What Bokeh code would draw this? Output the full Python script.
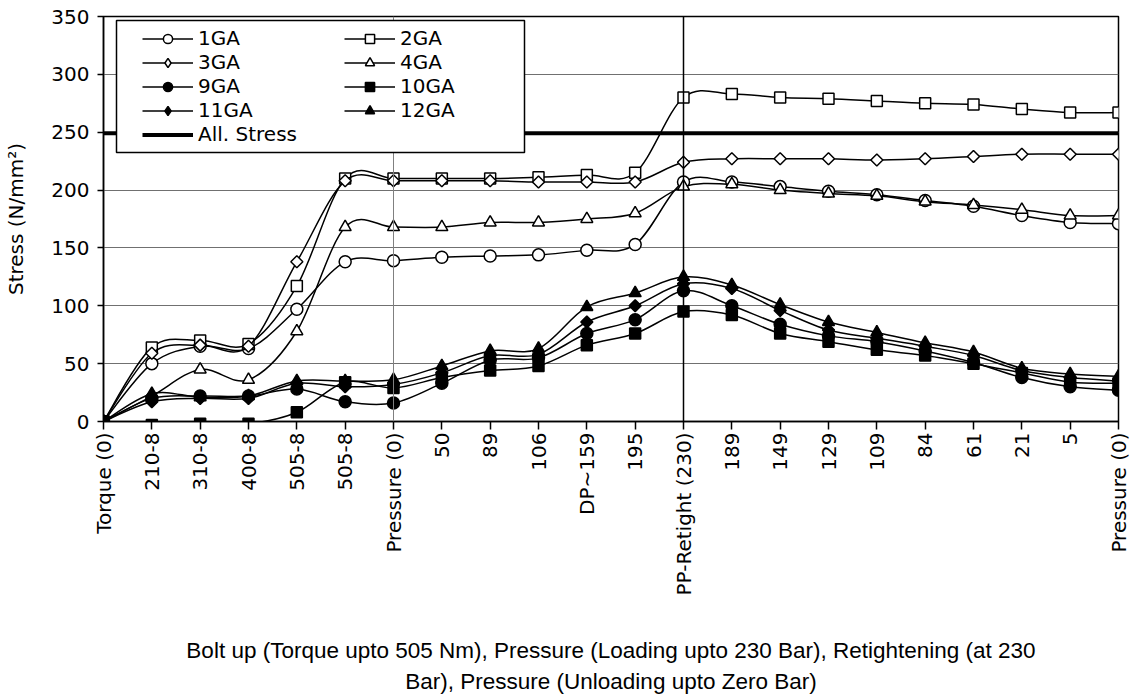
import math
from bokeh.plotting import figure
from bokeh.models import (Range1d, FixedTicker, Span, BoxAnnotation, Legend,
                          LegendItem, Title)
from bokeh.embed import file_html
from bokeh.resources import INLINE

# ---------------- data ----------------
stages = ["Torque (0)", "210-8", "310-8", "400-8", "505-8", "505-8",
          "Pressure (0)", "50", "89", "106", "DP~159", "195",
          "PP-Retight (230)", "189", "149", "129", "109", "84", "61", "21",
          "5", "Pressure (0)"]

ga1 = [0, 50, 65, 63, 97, 138, 139, 142, 143, 144, 148, 153, 207, 207, 203, 199, 196, 191, 186, 178, 172, 171]
ga2 = [0, 64, 70, 67, 117, 210, 210, 210, 210, 211, 213, 215, 280, 283, 280, 279, 277, 275, 274, 270, 267, 267]
ga3 = [0, 59, 66, 65, 138, 208, 208, 208, 208, 207, 207, 207, 224, 227, 227, 227, 226, 227, 229, 231, 231, 231]
ga4 = [0, 22, 45, 36, 78, 168, 168, 168, 172, 172, 175, 180, 203, 205, 200, 197, 195, 190, 187, 183, 178, 178]
ga9 = [0, 20, 22, 22, 28, 17, 16, 33, 53, 55, 76, 88, 113, 100, 84, 74, 69, 61, 51, 38, 30, 27]
ga10 = [0, -3, -2, -2, 8, 34, 29, 38, 44, 48, 66, 76, 95, 92, 76, 69, 62, 57, 50, 42, 34, 33]
ga11 = [0, 17, 20, 20, 33, 30, 32, 42, 57, 58, 86, 100, 119, 115, 96, 79, 72, 65, 57, 44, 38, 35]
ga12 = [0, 24, 21, 22, 35, 35, 36, 48, 61, 63, 99, 111, 125, 118, 101, 86, 77, 68, 60, 46, 41, 39]
allow_stress = 249
stage_marks = [6, 12]

y_ticks = [0, 50, 100, 150, 200, 250, 300, 350]

x_title_1 = "Bolt up (Torque upto 505 Nm), Pressure (Loading upto 230 Bar), Retightening (at 230"
x_title_2 = "Bar), Pressure (Unloading upto Zero Bar)"
y_title = "Stress (N/mm\u00b2)"

# ---------------- layout constants ----------------
W, H = 1137, 696
LEFT, RIGHT, TOP, BOTTOM = 103, 1118, 16, 421
FONT = "DejaVu Sans"

xs = list(range(len(stages)))
YMAX = 350

p = figure(width=W, height=H, output_backend="svg", toolbar_location=None,
           x_range=Range1d(xs[0], xs[-1]), y_range=Range1d(0, YMAX),
           min_border_left=LEFT, min_border_right=W - RIGHT,
           min_border_top=TOP, min_border_bottom=H - BOTTOM)
p.background_fill_color = "white"
p.border_fill_color = "white"
p.outline_line_color = "black"
p.outline_line_width = 1.5

p.xgrid.visible = False
p.ygrid.grid_line_color = "#707070"
p.ygrid.grid_line_width = 1

# axes
p.yaxis.ticker = FixedTicker(ticks=y_ticks)
p.yaxis.axis_label = y_title
p.yaxis.axis_label_text_font = FONT
p.yaxis.axis_label_text_font_size = "20px"
p.yaxis.axis_label_text_font_style = "normal"
p.yaxis.axis_label_standoff = 20
p.yaxis.major_label_text_font = FONT
p.yaxis.major_label_text_font_size = "20px"
p.yaxis.major_label_standoff = 8
p.yaxis.major_tick_in = 0
p.yaxis.major_tick_out = 6
p.yaxis.minor_tick_out = 0
p.yaxis.minor_tick_in = 0

p.xaxis.ticker = FixedTicker(ticks=xs)
p.xaxis.major_label_overrides = {i: s for i, s in enumerate(stages)}
p.xaxis.major_label_orientation = math.pi / 2
p.xaxis.major_label_text_font = FONT
p.xaxis.major_label_text_font_size = "20px"
p.xaxis.major_label_standoff = 3
p.xaxis.major_tick_in = 0
p.xaxis.major_tick_out = 8
p.xaxis.axis_label = x_title_1
p.xaxis.axis_label_text_font = "Liberation Sans"
p.xaxis.axis_label_text_font_size = "22.5px"
p.xaxis.axis_label_text_font_style = "normal"
p.xaxis.axis_label_text_line_height = 1.0
p.xaxis.axis_label_standoff = 40

for ax in (p.xaxis[0], p.yaxis[0]):
    ax.axis_line_color = "black"
    ax.axis_line_width = 1.5
    ax.major_tick_line_color = "black"
    ax.major_tick_line_width = 1.5
    ax.major_label_text_color = "black"
    ax.axis_label_text_color = "black"

p.add_layout(Title(text=x_title_2, align="center", text_font="Liberation Sans",
                   text_font_size="22.5px", text_font_style="normal",
                   text_color="black", standoff=0), "below")


def smooth(ys):
    """Bezier segments (Catmull-Rom style, like a spreadsheet 'smoothed line')."""
    n = len(ys)
    d = dict(x0=[], y0=[], x1=[], y1=[], cx0=[], cy0=[], cx1=[], cy1=[])
    for i in range(n - 1):
        a = max(i - 1, 0)
        b = min(i + 2, n - 1)
        d["x0"].append(xs[i]); d["y0"].append(ys[i])
        d["x1"].append(xs[i + 1]); d["y1"].append(ys[i + 1])
        d["cx0"].append(xs[i] + (xs[i + 1] - xs[a]) / 6.0)
        d["cy0"].append(ys[i] + (ys[i + 1] - ys[a]) / 6.0)
        d["cx1"].append(xs[i + 1] - (xs[b] - xs[i]) / 6.0)
        d["cy1"].append(ys[i + 1] - (ys[b] - ys[i]) / 6.0)
    return d


# allowable stress line
r_all = p.line([xs[0], xs[-1]], [allow_stress, allow_stress],
               line_color="black", line_width=4)

# name, values, plot marker, size, angle, fill, legend marker
series = [
    ("1GA", ga1, "circle", 12, 0, "white", None),
    ("2GA", ga2, "square", 11, 0, "white", None),
    ("3GA", ga3, "square", 8.5, math.pi / 4, "white", "diamond"),
    ("4GA", ga4, "triangle", 12, 0, "white", None),
    ("9GA", ga9, "circle", 12, 0, "black", None),
    ("10GA", ga10, "square", 11, 0, "black", None),
    ("11GA", ga11, "square", 8.5, math.pi / 4, "black", "diamond"),
    ("12GA", ga12, "triangle", 12, 0, "black", None),
]

items = {}
for name, ys, marker, size, ang, fill, leg_marker in series:
    d = smooth(ys)
    rl = p.bezier(x0=d["x0"], y0=d["y0"], x1=d["x1"], y1=d["y1"],
                  cx0=d["cx0"], cy0=d["cy0"], cx1=d["cx1"], cy1=d["cy1"],
                  line_color="black", line_width=1.5)
    if leg_marker is not None:
        # diamond drawn underneath the rotated square (hidden by it); it
        # provides the legend glyph, since legends ignore marker angle
        rleg = p.scatter(xs, ys, marker=leg_marker, size=9,
                         fill_color=fill, line_color="black", line_width=1.5)
    rm = p.scatter(xs, ys, marker=marker, size=size, angle=ang,
                   fill_color=fill, line_color="black", line_width=1.5)
    items[name] = [rl, rm] if leg_marker is None else [rl, rleg]

for loc, col, lw in zip(stage_marks, ["#808080", "black"], [1, 1.5]):
    p.add_layout(Span(location=loc, dimension="height", line_color=col,
                      line_width=lw))

# legend frame (white box) in data units computed from pixel geometry
px_x = (RIGHT - LEFT) / (xs[-1] - xs[0])
px_y = (BOTTOM - TOP) / YMAX
box = BoxAnnotation(left=(116 - LEFT) / px_x, right=(524 - LEFT) / px_x,
                    top=YMAX - (20 - TOP) / px_y, bottom=YMAX - (152 - TOP) / px_y,
                    fill_color="white", fill_alpha=1.0,
                    line_color="black", line_width=1.5, line_alpha=1.0)
p.add_layout(box)

order = ["1GA", "3GA", "9GA", "11GA", None, "2GA", "4GA", "10GA", "12GA"]
leg_items = []
for nm in order:
    if nm is None:
        leg_items.append(LegendItem(label="All. Stress", renderers=[r_all]))
    else:
        leg_items.append(LegendItem(label=nm, renderers=items[nm]))

legend = Legend(items=leg_items, location=(29, 265), ncols=2,
                border_line_alpha=0, background_fill_alpha=0,
                padding=10, spacing=0, margin=0,
                glyph_width=51, glyph_height=23, label_height=23,
                label_width=146, label_standoff=5,
                label_text_font=FONT, label_text_font_size="20px",
                label_text_line_height=1.0,
                label_text_color="black")
p.add_layout(legend)

open("out.html", "w").write(file_html(p, INLINE))
